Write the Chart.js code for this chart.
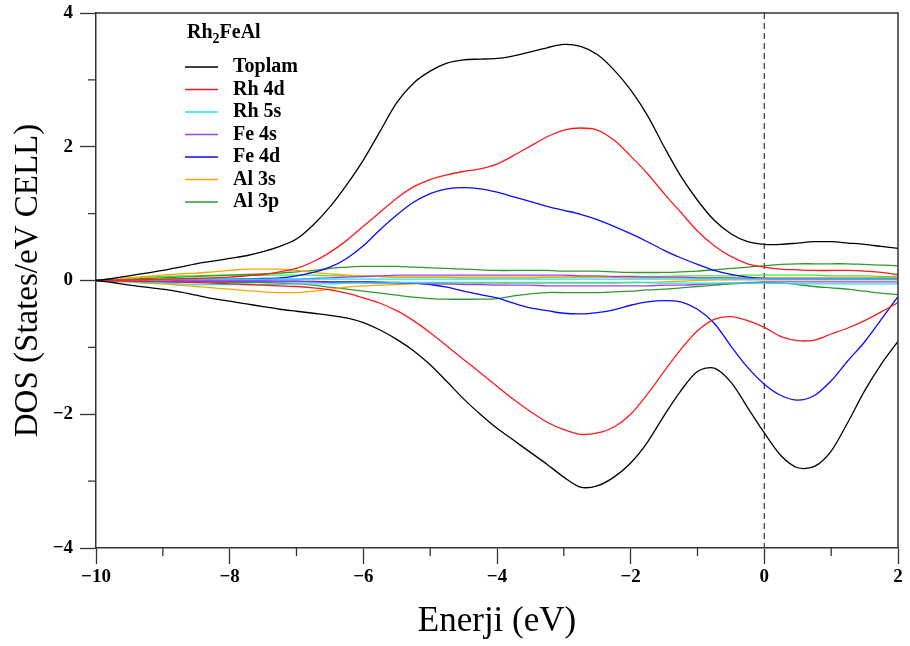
<!DOCTYPE html>
<html>
<head>
<meta charset="utf-8">
<script src="https://cdn.jsdelivr.net/npm/chart.js@4.4.1/dist/chart.umd.min.js"></script>
<style>
    html, body { margin: 0; padding: 0; background: #fff; }
    #wrap { width: 910px; height: 646px; }
</style>
</head>
<body>
<div id="wrap"><canvas id="dosChart"></canvas></div>
<script>
// energy grid (eV)
const energy = [-10, -9.75, -9.5, -9.25, -9, -8.75, -8.5, -8.25, -8, -7.75, -7.5, -7.25, -7, -6.75, -6.5, -6.25,
    -6, -5.75, -5.5, -5.25, -5, -4.75, -4.5, -4.25, -4, -3.75, -3.5, -3.25, -3, -2.75, -2.5, -2.25,
    -2, -1.75, -1.5, -1.25, -1, -0.75, -0.5, -0.25, 0, 0.25, 0.5, 0.75, 1, 1.25, 1.5, 1.75, 2];

// spin up / spin down DOS
const toplamUp = [0, 0.03, 0.07, 0.11, 0.15, 0.2, 0.25, 0.29, 0.33, 0.37, 0.43, 0.51, 0.62, 0.83, 1.1, 1.43,
    1.8, 2.23, 2.66, 2.95, 3.13, 3.25, 3.3, 3.31, 3.32, 3.36, 3.42, 3.48, 3.53, 3.5, 3.38, 3.15,
    2.85, 2.47, 2.0, 1.56, 1.2, 0.9, 0.7, 0.58, 0.54, 0.54, 0.56, 0.58, 0.58, 0.56, 0.54, 0.51, 0.48];
const toplamDn = [0, -0.03, -0.07, -0.1, -0.13, -0.17, -0.22, -0.27, -0.31, -0.35, -0.39, -0.43, -0.46, -0.49, -0.52, -0.56,
    -0.63, -0.74, -0.88, -1.05, -1.26, -1.51, -1.77, -2.0, -2.21, -2.39, -2.57, -2.75, -2.94, -3.09, -3.07, -2.94,
    -2.73, -2.42, -2.02, -1.65, -1.36, -1.31, -1.52, -1.9, -2.28, -2.62, -2.8, -2.78, -2.55, -2.12, -1.65, -1.25, -0.91];

const rh4dUp = [0, 0.005, 0.01, 0.015, 0.02, 0.025, 0.03, 0.04, 0.05, 0.07, 0.09, 0.13, 0.18, 0.28, 0.42, 0.6,
    0.81, 1.02, 1.23, 1.4, 1.51, 1.58, 1.63, 1.67, 1.74, 1.87, 2.01, 2.15, 2.25, 2.28, 2.25, 2.1,
    1.86, 1.6, 1.3, 1.02, 0.74, 0.52, 0.36, 0.25, 0.2, 0.17, 0.16, 0.15, 0.15, 0.15, 0.14, 0.12, 0.09];
const rh4dDn = [0, -0.005, -0.01, -0.015, -0.02, -0.025, -0.03, -0.04, -0.05, -0.06, -0.07, -0.08, -0.09, -0.11, -0.14, -0.19,
    -0.26, -0.34, -0.45, -0.6, -0.78, -0.98, -1.18, -1.38, -1.58, -1.78, -1.96, -2.12, -2.23, -2.3, -2.28, -2.19,
    -2.0, -1.7, -1.36, -1.03, -0.75, -0.58, -0.54, -0.6, -0.7, -0.84, -0.9, -0.89, -0.8, -0.71, -0.6, -0.47, -0.33];

const rh5sUp = [0, 0.01, 0.01, 0.01, 0.01, 0.02, 0.02, 0.02, 0.02, 0.02, 0.02, 0.02, 0.02, 0.02, 0.02, 0.02,
    0.02, 0.02, 0.02, 0.02, 0.02, 0.02, 0.02, 0.02, 0.02, 0.02, 0.02, 0.02, 0.02, 0.02, 0.02, 0.02,
    0.02, 0.02, 0.02, 0.02, 0.02, 0.02, 0.02, 0.02, 0.02, 0.02, 0.02, 0.02, 0.02, 0.02, 0.02, 0.02, 0.02];
const rh5sDn = [0, -0.01, -0.02, -0.03, -0.04, -0.05, -0.06, -0.06, -0.06, -0.06, -0.06, -0.06, -0.05, -0.05, -0.05, -0.04,
    -0.04, -0.04, -0.03, -0.03, -0.03, -0.03, -0.03, -0.03, -0.03, -0.03, -0.03, -0.03, -0.03, -0.03, -0.03, -0.03,
    -0.03, -0.03, -0.04, -0.04, -0.04, -0.04, -0.04, -0.04, -0.04, -0.04, -0.05, -0.05, -0.05, -0.05, -0.05, -0.05, -0.05];

const fe4sUp = [0, 0, 0.01, 0.01, 0.01, 0.01, 0.01, 0.01, 0.01, 0.01, 0.01, 0.02, 0.02, 0.03, 0.04, 0.05,
    0.06, 0.07, 0.08, 0.08, 0.08, 0.08, 0.08, 0.08, 0.08, 0.08, 0.08, 0.08, 0.08, 0.07, 0.07, 0.06,
    0.06, 0.05, 0.05, 0.05, 0.04, 0.04, 0.04, 0.03, 0.03, 0.03, 0.03, 0.03, 0.03, 0.03, 0.03, 0.03, 0.03];
const fe4sDn = [0, -0.01, -0.01, -0.01, -0.01, -0.01, -0.01, -0.01, -0.01, -0.01, -0.01, -0.02, -0.02, -0.02, -0.03, -0.03,
    -0.03, -0.04, -0.04, -0.04, -0.05, -0.05, -0.06, -0.06, -0.07, -0.07, -0.07, -0.08, -0.08, -0.08, -0.08, -0.08,
    -0.08, -0.08, -0.07, -0.07, -0.06, -0.05, -0.04, -0.03, -0.02, -0.02, -0.02, -0.02, -0.02, -0.02, -0.02, -0.02, -0.02];

const fe4dUp = [0, 0.005, 0.01, 0.01, 0.01, 0.015, 0.02, 0.02, 0.02, 0.025, 0.03, 0.04, 0.07, 0.12, 0.2, 0.33,
    0.52, 0.76, 0.98, 1.17, 1.3, 1.37, 1.39, 1.37, 1.32, 1.25, 1.18, 1.11, 1.05, 0.99, 0.91, 0.81,
    0.7, 0.58, 0.45, 0.34, 0.24, 0.15, 0.09, 0.05, 0.03, 0.02, 0.02, 0.02, 0.02, 0.02, 0.02, 0.02, 0.02];
const fe4dDn = [0, -0.005, -0.01, -0.01, -0.01, -0.01, -0.01, -0.01, -0.01, -0.01, -0.01, -0.01, -0.01, -0.015, -0.02, -0.02,
    -0.02, -0.025, -0.03, -0.04, -0.06, -0.1, -0.16, -0.21, -0.26, -0.34, -0.41, -0.45, -0.49, -0.5, -0.48, -0.44,
    -0.37, -0.32, -0.3, -0.32, -0.43, -0.64, -0.98, -1.3, -1.55, -1.72, -1.79, -1.72, -1.5, -1.2, -0.92, -0.58, -0.24];

const al3sUp = [0, 0.02, 0.04, 0.06, 0.08, 0.1, 0.11, 0.13, 0.15, 0.17, 0.17, 0.17, 0.15, 0.12, 0.1, 0.08,
    0.07, 0.06, 0.05, 0.05, 0.05, 0.05, 0.05, 0.05, 0.05, 0.05, 0.05, 0.05, 0.05, 0.05, 0.05, 0.05,
    0.04, 0.04, 0.04, 0.04, 0.04, 0.04, 0.04, 0.04, 0.04, 0.04, 0.04, 0.04, 0.04, 0.04, 0.04, 0.04, 0.04];
const al3sDn = [0, -0.01, -0.02, -0.04, -0.05, -0.07, -0.09, -0.11, -0.13, -0.15, -0.17, -0.18, -0.18, -0.16, -0.13, -0.1,
    -0.08, -0.07, -0.06, -0.05, -0.05, -0.05, -0.05, -0.05, -0.05, -0.04, -0.04, -0.04, -0.04, -0.04, -0.04, -0.04,
    -0.03, -0.03, -0.02, -0.01, 0, 0.01, 0.01, 0.01, 0.01, 0.01, 0.01, 0.01, 0.01, 0.01, 0.01, 0.01, 0.01];

const al3pUp = [0, 0.01, 0.02, 0.03, 0.04, 0.05, 0.06, 0.07, 0.08, 0.09, 0.1, 0.11, 0.13, 0.15, 0.18, 0.2,
    0.21, 0.21, 0.21, 0.2, 0.19, 0.18, 0.17, 0.16, 0.15, 0.15, 0.15, 0.15, 0.14, 0.14, 0.14, 0.13,
    0.12, 0.12, 0.12, 0.13, 0.14, 0.16, 0.18, 0.2, 0.22, 0.24, 0.25, 0.25, 0.25, 0.25, 0.24, 0.23, 0.22];
const al3pDn = [0, -0.005, -0.01, -0.01, -0.015, -0.02, -0.02, -0.025, -0.03, -0.03, -0.03, -0.04, -0.05, -0.07, -0.1, -0.13,
    -0.16, -0.19, -0.22, -0.25, -0.27, -0.28, -0.28, -0.28, -0.27, -0.23, -0.2, -0.18, -0.18, -0.18, -0.18, -0.17,
    -0.16, -0.14, -0.13, -0.11, -0.09, -0.07, -0.05, -0.04, -0.03, -0.04, -0.06, -0.09, -0.11, -0.13, -0.16, -0.19, -0.21];

// extra light green trace seen near zero (not in legend)
const extraUp = [0, 0.02, 0.04, 0.05, 0.06, 0.07, 0.07, 0.08, 0.08, 0.08, 0.08, 0.08, 0.08, 0.08, 0.07, 0.07,
    0.06, 0.06, 0.05, 0.05, 0.05, 0.05, 0.04, 0.04, 0.04, 0.04, 0.04, 0.05, 0.05, 0.05, 0.05, 0.05,
    0.06, 0.06, 0.06, 0.07, 0.07, 0.07, 0.07, 0.08, 0.08, 0.08, 0.08, 0.08, 0.07, 0.07, 0.07, 0.06, 0.06];

const seriesNames = ["Toplam", "Rh 4d", "Rh 5s", "Fe 4s", "Fe 4d", "Al 3s", "Al 3p"];
const seriesColors = ["#000000", "#ff1a1a", "#22e4e4", "#a040f0", "#0a0aff", "#ffa500", "#2e9a2e"];
const upValues = [toplamUp, rh4dUp, rh5sUp, fe4sUp, fe4dUp, al3sUp, al3pUp];
const dnValues = [toplamDn, rh4dDn, rh5sDn, fe4sDn, fe4dDn, al3sDn, al3pDn];

const xTicks = [-10, -8, -6, -4, -2, 0, 2];
const yTicks = [-4, -2, 0, 2, 4];

const serif = '"Liberation Serif", "Times New Roman", serif';

function toPoints(values) {
    return values.map((v, i) => ({ x: energy[i], y: v }));
}

function tickText(v) {
    return v < 0 ? "\u2212" + Math.abs(v) : String(v);
}

const datasets = [];
seriesNames.forEach((name, i) => {
    [upValues[i], dnValues[i]].forEach(vals => {
        datasets.push({
            label: name,
            data: toPoints(vals),
            borderColor: seriesColors[i],
            borderWidth: 1.3,
            pointRadius: 0,
            tension: 0.3,
            fill: false,
            order: i
        });
    });
});
datasets.push({
    label: "",
    data: toPoints(extraUp),
    borderColor: "#3cec3c",
    borderWidth: 1.3,
    pointRadius: 0,
    tension: 0.3,
    fill: false,
    order: 8
});

// box, minor ticks, Fermi level line and the legend
const decorations = {
    id: "decorations",
    beforeDatasetsDraw(chart) {
        const { ctx, chartArea: a, scales: { x } } = chart;
        const x0 = x.getPixelForValue(0);
        ctx.save();
        ctx.strokeStyle = "#444";
        ctx.lineWidth = 1.3;
        ctx.setLineDash([6, 4]);
        ctx.beginPath();
        ctx.moveTo(x0, a.top);
        ctx.lineTo(x0, a.bottom);
        ctx.stroke();
        ctx.restore();
    },
    afterDraw(chart) {
        const { ctx, chartArea: a, scales: { x, y } } = chart;
        ctx.save();
        ctx.strokeStyle = "#333";
        ctx.lineWidth = 1.5;
        ctx.beginPath();
        ctx.moveTo(a.left, a.top);
        ctx.lineTo(a.right, a.top);
        ctx.lineTo(a.right, a.bottom);
        ctx.stroke();

        // minor ticks
        ctx.lineWidth = 1.3;
        ctx.beginPath();
        x.ticks.forEach(t => {
            if (xTicks.includes(t.value)) return;
            const px = x.getPixelForValue(t.value);
            ctx.moveTo(px, a.bottom);
            ctx.lineTo(px, a.bottom + 8);
        });
        y.ticks.forEach(t => {
            if (yTicks.includes(t.value)) return;
            const py = y.getPixelForValue(t.value);
            ctx.moveTo(a.left, py);
            ctx.lineTo(a.left - 8, py);
        });
        ctx.stroke();

        // legend
        const lx = a.left + 91, ly = a.top + 20;
        ctx.fillStyle = "#000";
        ctx.textBaseline = "middle";
        ctx.font = "bold 20px " + serif;
        ctx.fillText("Rh", lx, ly);
        let w = ctx.measureText("Rh").width;
        ctx.font = "bold 14px " + serif;
        ctx.fillText("2", lx + w, ly + 6);
        w += ctx.measureText("2").width;
        ctx.font = "bold 20px " + serif;
        ctx.fillText("FeAl", lx + w, ly);

        seriesNames.forEach((name, i) => {
            const ry = a.top + 54 + i * 22.5;
            ctx.strokeStyle = seriesColors[i];
            ctx.lineWidth = 1.5;
            ctx.beginPath();
            ctx.moveTo(lx - 2, ry);
            ctx.lineTo(lx + 31, ry);
            ctx.stroke();
            ctx.fillStyle = "#000";
            ctx.fillText(name, lx + 46, ry);
        });
        ctx.restore();
    }
};

new Chart(document.getElementById("dosChart").getContext("2d"), {
    type: "line",
    data: { datasets: datasets },
    options: {
        responsive: true,
        maintainAspectRatio: false,
        animation: false,
        layout: { padding: { left: 0, right: 12, top: 13, bottom: 0 } },
        plugins: {
            legend: { display: false },
            tooltip: { enabled: false }
        },
        scales: {
            x: {
                type: "linear",
                min: -10,
                max: 2,
                afterFit: s => { s.height = 98; s.paddingLeft = 0; s.paddingRight = 0; },
                ticks: {
                    stepSize: 1,
                    autoSkip: false,
                    maxRotation: 0,
                    padding: 2,
                    color: "#000",
                    font: { family: serif, size: 19, weight: "bold" },
                    callback: v => (xTicks.includes(v) ? tickText(v) : "")
                },
                grid: {
                    drawOnChartArea: false,
                    tickLength: 16,
                    tickWidth: 1.3,
                    tickColor: c => (c.tick && xTicks.includes(c.tick.value) ? "#333" : "rgba(0,0,0,0)")
                },
                border: { display: true, color: "#333", width: 1.5 },
                title: {
                    display: true,
                    text: "Enerji (eV)",
                    color: "#000",
                    font: { family: serif, size: 35 },
                    padding: { top: 0, bottom: 3 }
                }
            },
            y: {
                min: -4,
                max: 4,
                afterFit: s => { s.width = 96; s.paddingTop = 0; s.paddingBottom = 0; },
                ticks: {
                    stepSize: 1,
                    autoSkip: false,
                    padding: 7,
                    color: "#000",
                    font: { family: serif, size: 19, weight: "bold" },
                    callback: v => (yTicks.includes(v) ? tickText(v) : "")
                },
                grid: {
                    drawOnChartArea: false,
                    tickLength: 16,
                    tickWidth: 1.3,
                    tickColor: c => (c.tick && yTicks.includes(c.tick.value) ? "#333" : "rgba(0,0,0,0)")
                },
                border: { display: true, color: "#333", width: 1.5 },
                title: {
                    display: true,
                    text: "DOS (States/eV CELL)",
                    color: "#000",
                    font: { family: serif, size: 33 },
                    padding: { top: 9, bottom: 0 }
                }
            }
        }
    },
    plugins: [decorations]
});
</script>
</body>
</html>
